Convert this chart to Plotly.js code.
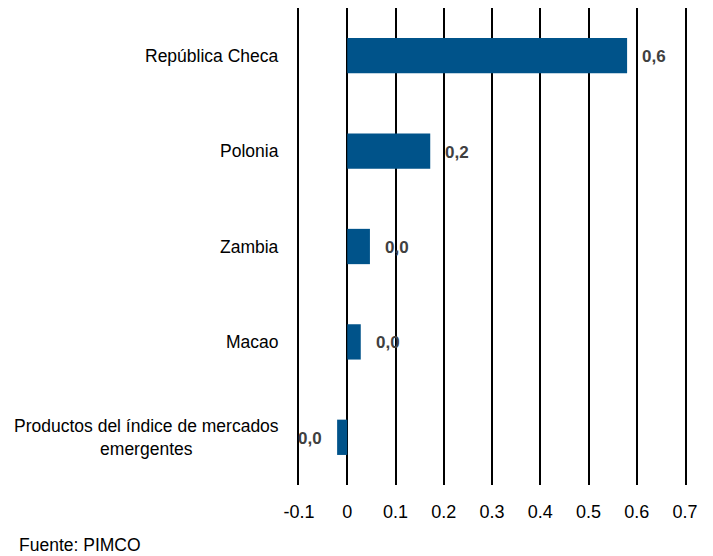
<!DOCTYPE html>
<html>
<head>
<meta charset="utf-8">
<script src="https://cdn.plot.ly/plotly-3.0.1.min.js"></script>
<style>html,body{margin:0;padding:0;background:#fff;}#chart{width:713px;height:556px;}</style>
</head>
<body>
<div id="chart"></div>
<script>
const categories = ["República Checa", "Polonia", "Zambia", "Macao", "Productos del índice de mercados<br>emergentes"];
const values = [0.58, 0.172, 0.047, 0.028, -0.021];
const valueLabels = ["0,6", "0,2", "0,0", "0,0", "0,0"];
const xTicks = [-0.1, 0, 0.1, 0.2, 0.3, 0.4, 0.5, 0.6, 0.7];
const xTickLabels = ["-0.1", "0", "0.1", "0.2", "0.3", "0.4", "0.5", "0.6", "0.7"];
const source = "Fuente: PIMCO";

const FONT = "'Liberation Sans', Arial, sans-serif";

const annotations = [];
categories.forEach((c, i) => {
  annotations.push({
    xref: 'paper', yref: 'y', x: 0, y: c, xanchor: 'right', yanchor: 'middle',
    xshift: -18, text: c, showarrow: false, align: 'center',
    font: {family: FONT, size: 17.5, color: '#000'}
  });
  const v = values[i];
  annotations.push({
    xref: 'x', yref: 'y', x: v, y: c,
    xanchor: v >= 0 ? 'left' : 'right', yanchor: 'middle',
    xshift: v >= 0 ? 13 : -13, yshift: -1,
    text: '<b>' + valueLabels[i] + '</b>', showarrow: false,
    font: {family: FONT, size: 17, color: '#404040'}
  });
});
annotations.push({
  xref: 'paper', yref: 'paper', x: (17 - 299) / 386, y: -60 / 477, xanchor: 'left', yanchor: 'middle',
  text: source, showarrow: false, font: {family: FONT, size: 17.5, color: '#000'}
});

const trace = {
  type: 'bar', orientation: 'h',
  x: values, y: categories,
  marker: {color: '#00538A'},
  width: 0.37,
  hoverinfo: 'none'
};

const layout = {
  width: 713, height: 556,
  margin: {l: 299, r: 28, t: 8, b: 71},
  paper_bgcolor: '#fff', plot_bgcolor: '#fff',
  showlegend: false,
  xaxis: {
    range: [-0.1, 0.7],
    tickvals: xTicks, ticktext: xTickLabels,
    showgrid: true, gridcolor: '#000', gridwidth: 2,
    zeroline: true, zerolinecolor: '#000', zerolinewidth: 2,
    showline: false, ticks: '',
    ticklabelstandoff: 14,
    tickfont: {family: FONT, size: 18, color: '#000'}
  },
  yaxis: {
    type: 'category', categoryorder: 'array', categoryarray: categories,
    autorange: 'reversed',
    showticklabels: false, showgrid: false, zeroline: false,
    showline: true, linecolor: '#000', linewidth: 2, mirror: true, ticks: ''
  },
  annotations: annotations
};

Plotly.newPlot('chart', [trace], layout, {staticPlot: true, displayModeBar: false});
</script>
</body>
</html>
